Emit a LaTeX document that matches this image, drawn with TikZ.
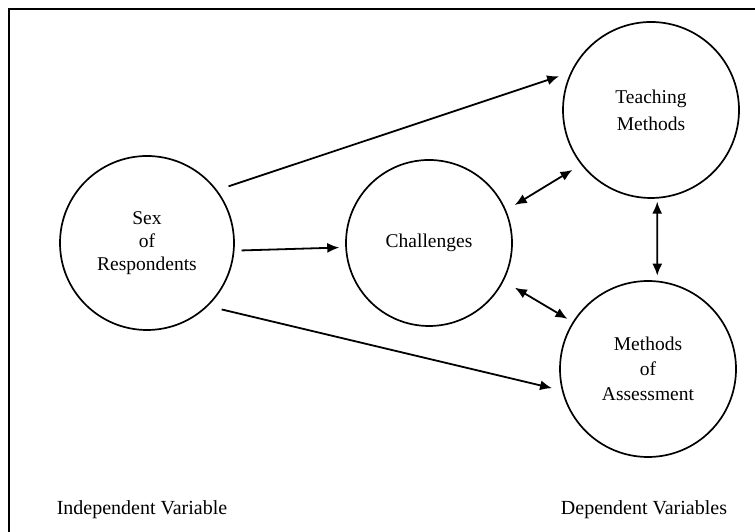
\documentclass[tikz,border=0pt]{standalone}
\usepackage{fontspec}
\setmainfont{Liberation Serif}
\usetikzlibrary{arrows.meta}
\begin{document}
\begin{tikzpicture}[x=1pt,y=1pt,
  circ/.style={circle,draw,line width=1.7pt,inner sep=0pt,align=center,font=\fontsize{19.5}{23}\selectfont},
  tip/.tip={Latex[length=12pt,width=10pt]},
  arr/.style={line width=1.8pt,-tip},
  darr/.style={line width=1.8pt,tip-tip},
  lab/.style={font=\fontsize{20}{24}\selectfont}]
\useasboundingbox (0,0) rectangle (755,532);
\draw[line width=1.4pt] (755,523) -- (9,523) -- (9,0);
\node[circ,minimum size=174pt] (sex) at (147,289) {Sex\\of\\Respondents};
\node[circ,minimum size=166pt] (chal) at (429,289) {\raisebox{5pt}{Challenges}};
\node[circ,minimum size=176pt,font=\fontsize{19.5}{27}\selectfont] (teach) at (651,422) {Teaching\\Methods};
\node[circ,minimum size=176pt,font=\fontsize{19.5}{25}\selectfont] (assess) at (648,163) {Methods\\of\\Assessment};
\draw[arr,shorten <=12pt,shorten >=12pt] (sex.37) -- (teach.155);
\draw[arr,shorten <=7pt,shorten >=6pt] (sex.-5) -- (chal.183);
\draw[arr,shorten <=14pt,shorten >=10pt] (sex.-46) -- (assess.194);
\draw[darr,shorten <=10pt,shorten >=10pt] (chal.23) -- (teach.218);
\draw[darr,shorten <=13pt,shorten >=6pt] (chal.-27) -- (assess.148);
\draw[darr,shorten <=3pt,shorten >=5pt] (teach.-86.7) -- (assess.84.8);
\node[lab] (iv) at (142,22) {Independent Variable};
\node[lab] (dv) at (644,22) {Dependent Variables};
\end{tikzpicture}
\end{document}
